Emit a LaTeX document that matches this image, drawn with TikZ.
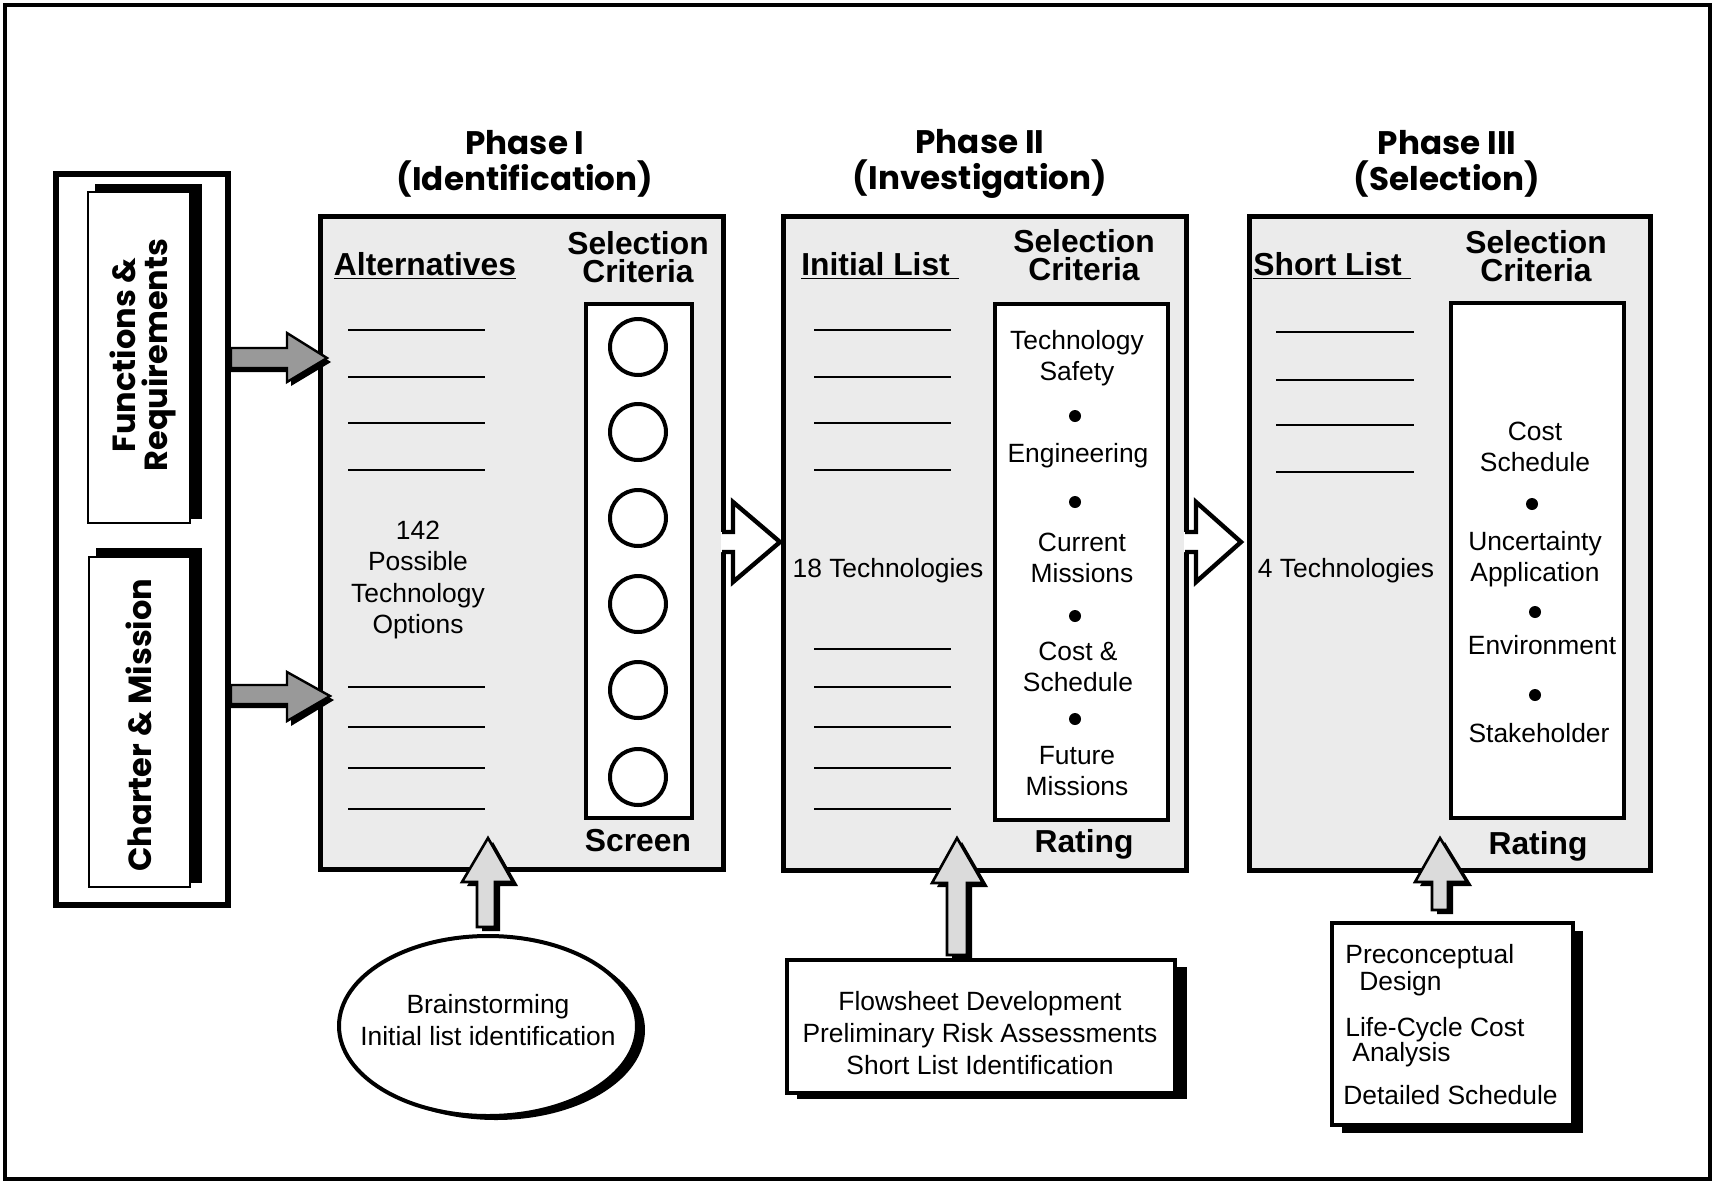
\documentclass[tikz,border=0pt]{standalone}
\usepackage{fontspec}
\setmainfont{Liberation Sans}
\newfontfamily\geo{Poppins}
\usetikzlibrary{shapes.geometric}
\definecolor{boxgray}{gray}{0.92}
\definecolor{arrgray}{gray}{0.6}
\definecolor{uparr}{gray}{0.86}
\tikzset{
  phasebox/.style={draw, line width=2.5pt, fill=boxgray, inner sep=0pt, outer sep=0pt},
  critbox/.style={draw, line width=2.3pt, fill=white, inner sep=0pt, outer sep=0pt},
  body/.style={font=\fontsize{13.2}{15.8}\selectfont, align=center, inner sep=0pt},
  hdr/.style={font=\bfseries\fontsize{15.9}{13.7}\selectfont, align=center, inner sep=0pt},
  ttl/.style={font=\geo\bfseries\fontsize{16.3}{18}\selectfont, align=center, inner sep=0pt},
  side/.style={font=\geo\bfseries\fontsize{16}{16}\selectfont, align=center, inner sep=0pt, rotate=90},
  blank/.style={line width=0.8pt},
  blt/.style={fill=black},
  shadow/.style={fill=black, draw=none},
  grayarrow/.style={fill=arrgray, draw=black, line width=1.2pt, line join=miter},
  uparrow/.style={fill=uparr, draw=black, line width=1.3pt, line join=miter},
  hollow/.style={draw=black, line width=2.2pt, line join=miter},
  lefttxt/.style={anchor=base west, inner sep=0pt, font=\fontsize{13.2}{15}\selectfont},
}
\begin{document}
\begin{tikzpicture}[x=0.5pt,y=-0.5pt]
\useasboundingbox (0,0) rectangle (1715,1184);
\fill[white] (0,0) rectangle (1715,1184);
\draw[line width=1.6pt] (5,5) rectangle (1710,1179);

% left input box
\node[draw, line width=3pt, fill=white, minimum width=86pt, minimum height=365.5pt, inner sep=0pt] (inputs) at (142,539.5) {};
\fill[shadow] (95,184) rectangle (202,519);
\node[draw, line width=1pt, fill=white, minimum width=51pt, minimum height=165.5pt, inner sep=0pt] (func) at (139,357.5) {};
\node[side] (functxt) at (143,355) {Functions \&\\Requirements};
\fill[shadow] (96,548) rectangle (202,883);
\node[draw, line width=1pt, fill=white, minimum width=50.5pt, minimum height=165pt, inner sep=0pt] (charter) at (139.5,722) {};
\node[side] (chartxt) at (139,725) {Charter \& Mission};

% phase boxes
\node[phasebox, minimum width=201.75pt, minimum height=326.75pt] (ph1) at (521.75,543) {};
\node[phasebox, minimum width=201.5pt, minimum height=327pt] (ph2) at (984.5,543) {};
\node[phasebox, minimum width=200.5pt, minimum height=327pt] (ph3) at (1449.5,543) {};

% titles
\node[ttl] (t1) at (525,164) {Phase I\\(Identification)};
\node[ttl] (t2) at (980,164) {Phase II\\(Investigation)};
\node[ttl] (t3) at (1447,164) {Phase III\\(Selection)};

% ---------- Phase I ----------
\node[hdr] (alt) at (425,266) {\underline{Alternatives}};
\node[hdr] (sc1) at (638,257) {Selection\\Criteria};
\node[critbox, minimum width=53pt, minimum height=257pt] (cb1) at (639,561) {};
\foreach \yy in {347,432,518,604,690,777} \draw[line width=2pt, fill=white] (638,\yy) circle (28);
\node[hdr] (scr) at (638,841) {Screen};
\foreach \yy in {330,377,423,470,687,727,768,809} \draw[blank] (348,\yy) -- (485,\yy);
\node[body] (opt) at (418,580) {142\\Possible\\Technology\\Options};

% ---------- Phase II ----------
\node[hdr] (il) at (880,266) {\underline{Initial List\ }};
\node[hdr] (sc2) at (1084,255) {Selection\\Criteria};
\node[critbox, minimum width=86.5pt, minimum height=258pt] (cb2) at (1081.5,562) {};
\node[body] (c21) at (1077,358) {Technology\\Safety};
\fill[blt] (1075,416) circle (6);
\node[body] (c22) at (1078,456) {Engineering};
\fill[blt] (1075,502) circle (6);
\node[body] (c23) at (1082,558) {Current\\Missions};
\fill[blt] (1075,616) circle (6);
\node[body] (c24) at (1078,667) {Cost \&\\Schedule};
\fill[blt] (1075,719) circle (6);
\node[body] (c25) at (1077,771) {Future\\Missions};
\node[hdr] (rt2) at (1084,844) {Rating};
\foreach \yy in {330,377,423,470,649,687,727,768,809} \draw[blank] (814,\yy) -- (951,\yy);
\node[body] (tech18) at (888,571) {18 Technologies};

% ---------- Phase III ----------
\node[hdr] (sl) at (1332,266) {\underline{Short List\ }};
\node[hdr] (sc3) at (1536,256) {Selection\\Criteria};
\node[critbox, minimum width=86.5pt, minimum height=257.5pt] (cb3) at (1537.5,560.5) {};
\node[body] (c31) at (1535,447) {Cost\\Schedule};
\fill[blt] (1532,504) circle (6);
\node[body] (c32) at (1535,559) {Uncertainty\\Application};
\fill[blt] (1535,612) circle (6);
\node[body] (c33) at (1542,645) {Environment};
\fill[blt] (1535,695) circle (6);
\node[body] (c34) at (1539,733) {Stakeholder};
\node[hdr] (rt3) at (1538,846) {Rating};
\foreach \yy in {332,380,425,472} \draw[blank] (1276,\yy) -- (1414,\yy);
\node[body] (tech4) at (1346,571) {4 Technologies};

% ---------- inputs to phase I ----------
\fill[shadow] (231,352) -- (291,352) -- (291,337) -- (331,362) -- (291,386) -- (291,372) -- (231,372) -- cycle;
\draw[grayarrow] (231,348) -- (287,348) -- (287,333) -- (327,358) -- (287,382) -- (287,368) -- (231,368) -- cycle;
\fill[shadow] (231,689) -- (291,689) -- (291,676) -- (334,700) -- (291,726) -- (291,708) -- (231,708) -- cycle;
\draw[grayarrow] (231,685) -- (287,685) -- (287,672) -- (330,696) -- (287,721) -- (287,704) -- (231,704) -- cycle;

% ---------- phase to phase ----------
\fill[white] (721,532) -- (733,532) -- (733,502) -- (780,542) -- (733,582) -- (733,552) -- (721,552) -- cycle;
\draw[hollow] (722,532) -- (733,532) -- (733,502) -- (780,542) -- (733,582) -- (733,552) -- (722,552);
\fill[white] (1184,532) -- (1196,532) -- (1196,502) -- (1241,542) -- (1196,582) -- (1196,552) -- (1184,552) -- cycle;
\draw[hollow] (1185,532) -- (1196,532) -- (1196,502) -- (1241,542) -- (1196,582) -- (1196,552) -- (1185,552);

% ---------- bottom inputs ----------
\fill[shadow] (496,1030) ellipse (149 and 90);
\node[draw, line width=2pt, fill=white, ellipse, minimum width=149pt, minimum height=90pt, inner sep=0pt] (brain) at (488,1026) {};
\node[body] (braintxt) at (488,1020) {Brainstorming\\Initial list identification};

\fill[shadow] (797,967) rectangle (1187,1099);
\node[draw, line width=2pt, fill=white, minimum width=194pt, minimum height=66.5pt, inner sep=0pt] (flow) at (981,1026.5) {};
\node[body] (flowtxt) at (980,1033) {Flowsheet Development\\Preliminary Risk Assessments\\Short List Identification};

\fill[shadow] (1342,931) rectangle (1583,1133);
\node[draw, line width=2pt, fill=white, minimum width=120.5pt, minimum height=101pt, inner sep=0pt] (pre) at (1452.5,1024) {};
\node[lefttxt] (p1) at (1345,963) {Preconceptual};
\node[lefttxt] (p2) at (1359,990) {Design};
\node[lefttxt] (p3) at (1345,1036) {Life-Cycle Cost};
\node[lefttxt] (p4) at (1352,1061) {Analysis};
\node[lefttxt] (p5) at (1343,1104) {Detailed Schedule};

% up arrows
\fill[shadow] (482,931) -- (482,886) -- (467,886) -- (493,842) -- (518,886) -- (500,886) -- (500,931) -- cycle;
\draw[uparrow] (477,927) -- (477,882) -- (462,882) -- (488,838) -- (513,882) -- (495,882) -- (495,927) -- cycle;
\fill[shadow] (952,959) -- (952,887) -- (937,887) -- (962,842) -- (988,887) -- (972,887) -- (972,959) -- cycle;
\draw[uparrow] (947,955) -- (947,883) -- (932,883) -- (957,838) -- (983,883) -- (967,883) -- (967,955) -- cycle;
\fill[shadow] (1437,914) -- (1437,886) -- (1420,886) -- (1445,842) -- (1472,886) -- (1453,886) -- (1453,914) -- cycle;
\draw[uparrow] (1432,910) -- (1432,882) -- (1415,882) -- (1440,838) -- (1467,882) -- (1448,882) -- (1448,910) -- cycle;
\end{tikzpicture}
\end{document}
